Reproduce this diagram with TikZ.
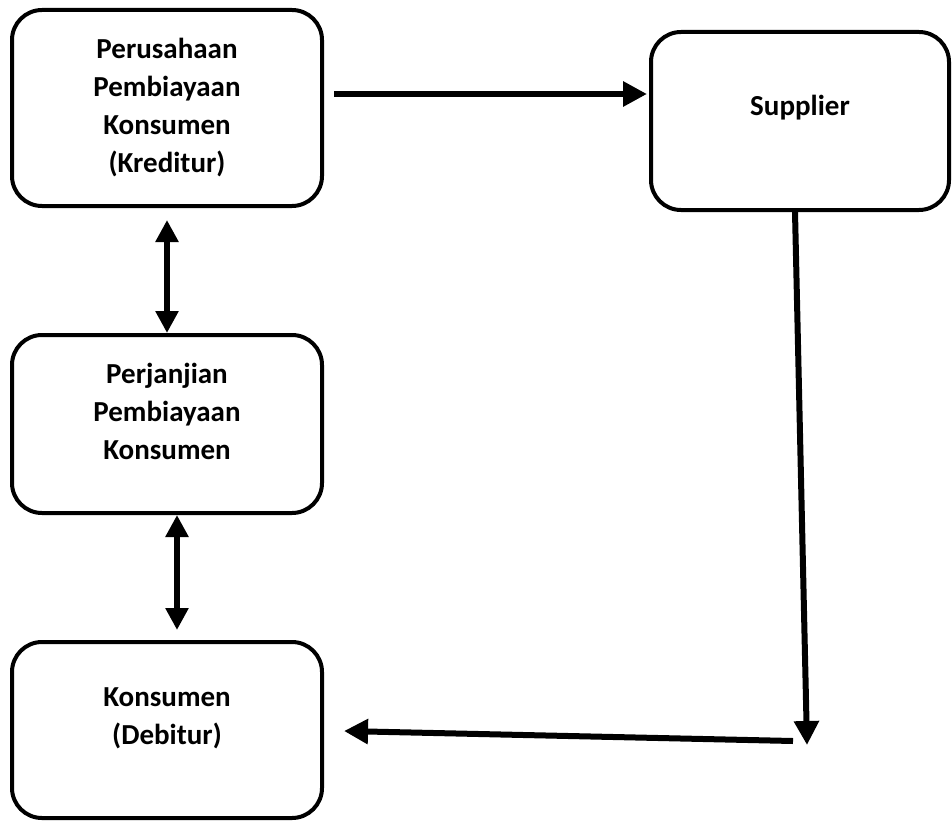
\documentclass[tikz,border=0pt]{standalone}
\usepackage{fontspec}
\setmainfont{Carlito}
\usetikzlibrary{arrows.meta}

\begin{document}
\begin{tikzpicture}[x=1pt, y=-1pt,
  every node/.style={font=\bfseries\fontsize{29}{38}\selectfont},
  box/.style={draw, line width=4pt, rounded corners=30pt, align=center, minimum width=310pt},
  arr/.style={line width=6pt, -{Triangle[length=24pt,width=24pt]}},
  dblarr/.style={line width=6pt, {Triangle[length=22pt,width=22pt]}-{Triangle[length=22pt,width=22pt]}}]

% --- Frame of the picture ---
\useasboundingbox (0,0) rectangle (952,821);

% --- Boxes ---
\node[box, minimum height=196pt] (kreditur) at (167,108)
  {Perusahaan\\Pembiayaan\\Konsumen\\(Kreditur)};
\node[box, minimum width=298pt, minimum height=178pt, text depth=31pt] (supplier) at (800,121)
  {Supplier};
\node[box, minimum height=178pt, text depth=26pt] (perjanjian) at (167,424)
  {Perjanjian\\Pembiayaan\\Konsumen};
\node[box, minimum height=176pt, text depth=27pt] (debitur) at (167,730)
  {Konsumen\\(Debitur)};

% --- Free ends of the bent flow ---
\coordinate (corner) at (807,745);
\coordinate (turn) at (793,741);

% --- Arrows ---
\draw[arr] ([xshift=10pt,yshift=14pt]kreditur.east) -- ([xshift=-2pt,yshift=27pt]supplier.west);
\draw[dblarr] ([yshift=-12pt]kreditur.south) -- (perjanjian.north);
\draw[dblarr] ([xshift=10pt]perjanjian.south) -- ([xshift=10pt,yshift=10pt]debitur.north);
\draw[arr] ([xshift=-5pt]supplier.south) -- (corner);
\draw[arr] (turn) -- ([xshift=20pt,yshift=-1pt]debitur.east);

\end{tikzpicture}
\end{document}
